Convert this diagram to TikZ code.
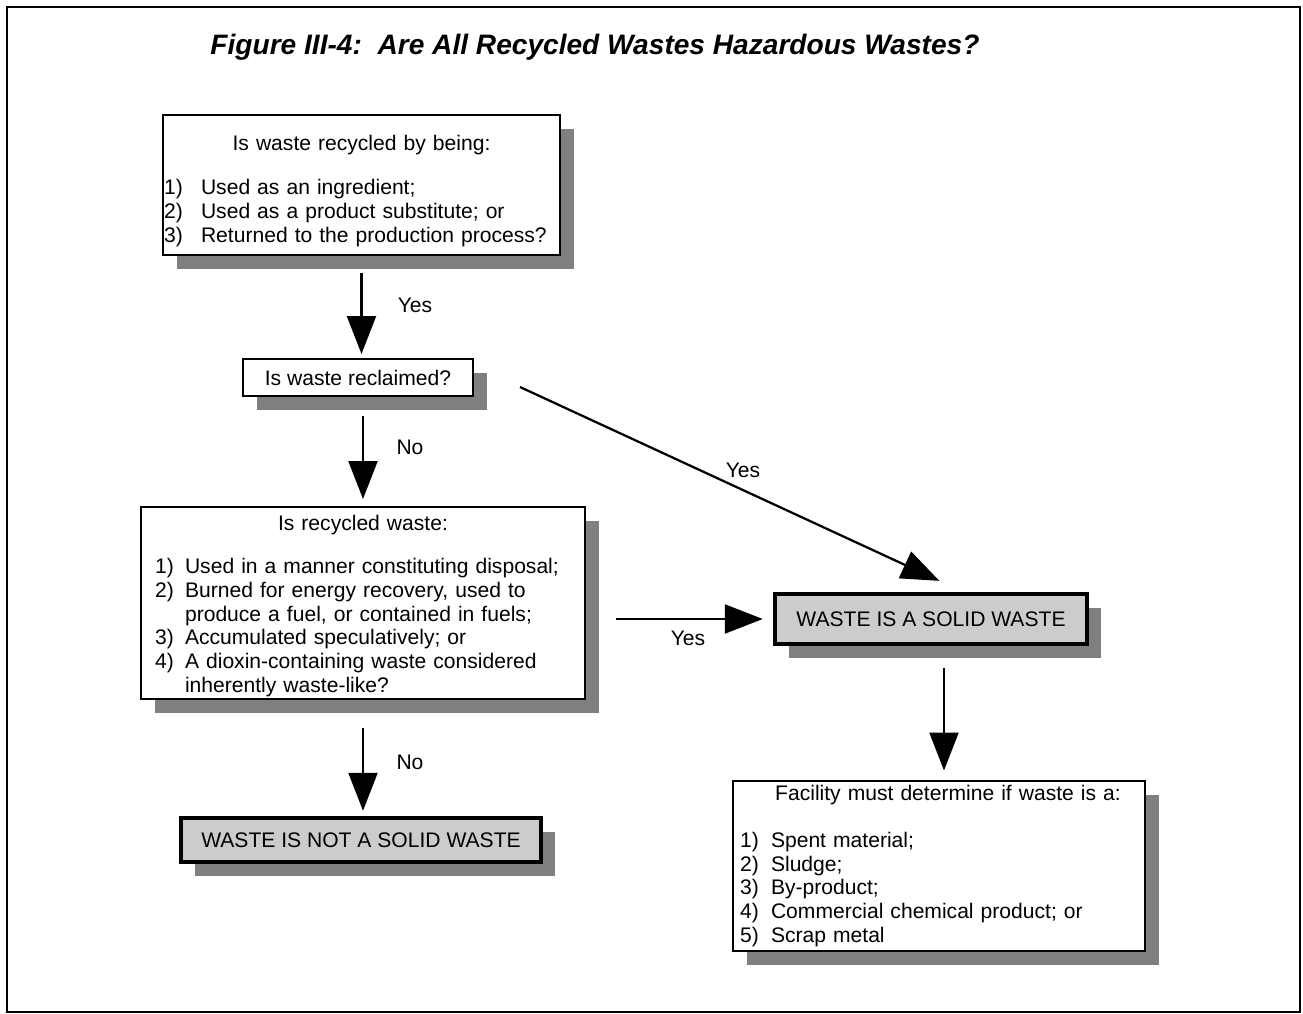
\documentclass[tikz,border=0pt]{standalone}
\usepackage{fontspec}
\setmainfont{Liberation Sans}
\usetikzlibrary{arrows.meta,shadows}

\begin{document}
\begin{tikzpicture}[x=0.02cm,y=-0.02cm,>={Triangle[length=0.76cm,width=0.58cm]},
  font=\fontsize{12}{13.6}\selectfont,
  qbox/.style={draw,line width=0.04cm,fill=white,inner ysep=0pt,
    drop shadow={shadow xshift=0.28cm,shadow yshift=-0.28cm,fill=black!50,opacity=1}},
  endbox/.style={qbox,line width=0.09cm,fill=black!20},
  arr/.style={->,line width=0.045cm},
  lbl/.style={inner sep=0pt}]

\useasboundingbox (0,0) rectangle (1303,1014);
\draw[line width=0.04cm] (7,7) rectangle (1300,1012);

\node[lbl,font=\fontsize{16}{18}\selectfont\bfseries\itshape] (title) at (595,47)
  {Figure III-4:\ \ Are All Recycled Wastes Hazardous Wastes?};

% question boxes
\node[qbox,minimum width=7.94cm,minimum height=2.8cm,text width=7.9cm,inner xsep=0.02cm,
  align=left] (recycled) at (361.5,185) {%
  \rule{0pt}{15.6pt}\makebox[\hsize]{Is waste recycled by being:}\\[4mm]
  \makebox[7.4mm][l]{1)}Used as an ingredient;\\
  \makebox[7.4mm][l]{2)}Used as a product substitute; or\\
  \makebox[7.4mm][l]{3)}Returned to the production process?};

\node[qbox,minimum width=4.6cm,minimum height=0.74cm] (reclaimed) at (358,377.5)
  {Is waste reclaimed?};

\node[qbox,minimum width=8.88cm,minimum height=3.84cm,text width=8.32cm,inner xsep=0.28cm,
  align=left] (disposal) at (363,603) {%
  \rule{0pt}{12.2pt}\makebox[\hsize]{Is recycled waste:}\\[3.8mm]
  \makebox[6mm][l]{1)}Used in a manner constituting disposal;\\
  \makebox[6mm][l]{2)}Burned for energy recovery, used to\\
  \hspace*{6mm}produce a fuel, or contained in fuels;\\
  \makebox[6mm][l]{3)}Accumulated speculatively; or\\
  \makebox[6mm][l]{4)}A dioxin-containing waste considered\\
  \hspace*{6mm}inherently waste-like?};

% results
\node[endbox,minimum width=6.24cm,minimum height=1cm] (solid) at (931,619)
  {WASTE IS A SOLID WASTE};
\node[endbox,minimum width=7.2cm,minimum height=0.88cm] (notsolid) at (361,840)
  {WASTE IS NOT A SOLID WASTE};

\node[qbox,minimum width=8.24cm,minimum height=3.42cm,text width=7.96cm,inner xsep=0.14cm,
  align=left] (determine) at (939,866) {%
  \makebox[\hsize]{\hspace{3.6mm}Facility must determine if waste is a:}\\[4.6mm]
  \makebox[6.2mm][l]{1)}Spent material;\\
  \makebox[6.2mm][l]{2)}Sludge;\\
  \makebox[6.2mm][l]{3)}By-product;\\
  \makebox[6.2mm][l]{4)}Commercial chemical product; or\\
  \makebox[6.2mm][l]{5)}Scrap metal};

% connectors
\coordinate (yesstart) at (520,387);
\coordinate (drop) at ([xshift=0.26cm]solid.south);

\draw[arr,shorten <=0.34cm,shorten >=0.08cm] (recycled) -- (recycled |- reclaimed.north);
\draw[arr,shorten <=0.38cm,shorten >=0.14cm] (disposal |- reclaimed.south) -- (disposal.north);
\draw[arr,shorten <=0.56cm,shorten >=0.1cm] (disposal) -- (disposal |- notsolid.north);
\draw[arr,shorten >=0.52cm] (yesstart) -- ([xshift=0.64cm]solid.north);
\draw[arr,shorten <=0.6cm,shorten >=0.2cm] (disposal.east |- solid) -- (solid);
\draw[arr,shorten <=0.44cm,shorten >=0.18cm] (drop) -- (drop |- determine.north);

\node[lbl] (yes1) at (415,305) {Yes};
\node[lbl] (no1) at (410,447) {No};
\node[lbl] (yes2) at (743,470) {Yes};
\node[lbl] (yes3) at (688,638) {Yes};
\node[lbl] (no2) at (410,762) {No};

\end{tikzpicture}
\end{document}
